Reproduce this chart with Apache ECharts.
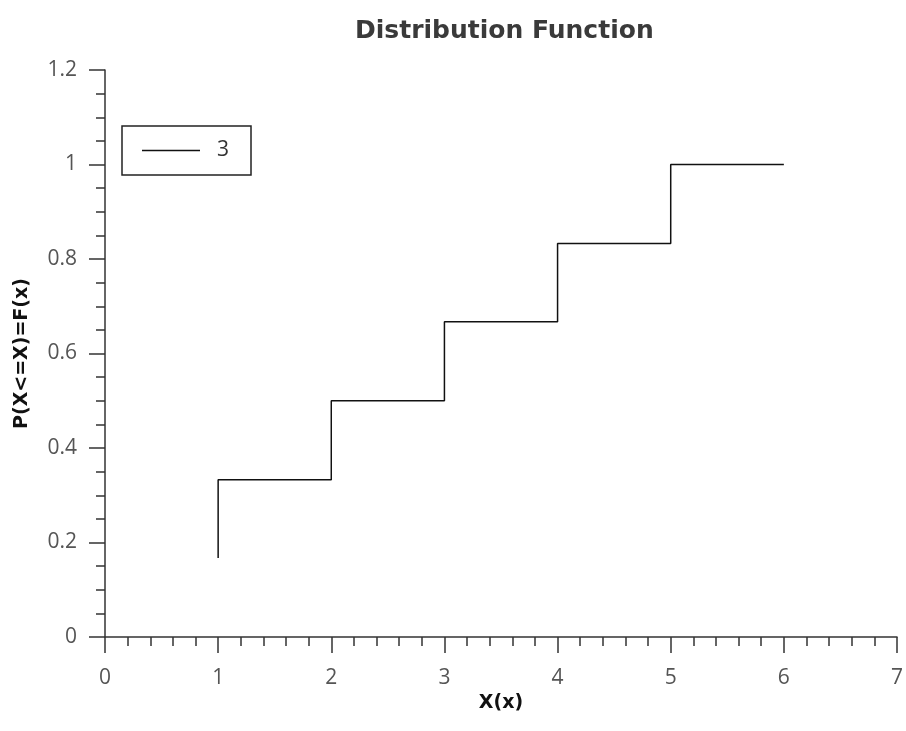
<!DOCTYPE html>
<html>
<head>
<meta charset="utf-8">
<script src="https://cdn.jsdelivr.net/npm/echarts@6/dist/echarts.min.js"></script>
<style>
  html, body { margin: 0; padding: 0; background: #fff; }
  #chart { width: 906px; height: 731px; }
</style>
</head>
<body>
<div id="chart"></div>
<script>
// step points of F(x); the line turns at the start of each step
const xValues = [1, 2, 3, 4, 5, 6];
const fValues = [0.167, 0.333, 0.5, 0.667, 0.833, 1.0];
const seriesName = '3';

const chart = echarts.init(document.getElementById('chart'));
const axisColor = '#333';
const font = 'Open Sans';
const boldFont = 'DejaVu Sans';

chart.setOption({
  backgroundColor: '#fff',
  animation: false,
  title: {
    text: 'Distribution Function',
    left: 350,
    top: 14,
    textStyle: { fontFamily: boldFont, fontSize: 25, fontWeight: 'bold', color: '#3a3a3a' }
  },
  legend: {
    left: 122,
    top: 126,
    orient: 'vertical',
    icon: 'rect',
    itemWidth: 58,
    itemHeight: 1.5,
    itemGap: 0,
    padding: [14, 22, 14, 20],
    borderColor: '#222',
    borderWidth: 1.5,
    borderRadius: 0,
    textStyle: { fontFamily: font, fontSize: 21, color: '#333', padding: [0, 0, 0, 12] },
    data: [seriesName]
  },
  grid: { left: 105, right: 7, top: 70, bottom: 94, containLabel: false },
  xAxis: {
    type: 'value',
    min: 0,
    max: 7,
    interval: 1,
    name: 'X(x)',
    nameLocation: 'middle',
    nameGap: 44,
    nameTextStyle: { fontFamily: boldFont, fontSize: 19, fontWeight: 'bold', color: '#111' },
    axisLine: { show: true, onZero: false, lineStyle: { color: axisColor, width: 1.5 } },
    axisTick: { show: true, inside: false, length: 16, lineStyle: { color: axisColor, width: 1.5 } },
    minorTick: { show: true, splitNumber: 5, length: 9, lineStyle: { color: axisColor, width: 1.5 } },
    axisLabel: { fontFamily: font, fontSize: 21, color: '#555', margin: 31 },
    splitLine: { show: false }
  },
  yAxis: {
    type: 'value',
    min: 0,
    max: 1.2,
    interval: 0.2,
    name: 'P(X<=X)=F(x)',
    nameLocation: 'middle',
    nameRotate: 90,
    nameGap: 73,
    nameTextStyle: { fontFamily: boldFont, fontSize: 19, fontWeight: 'bold', color: '#111' },
    axisLine: { show: true, onZero: false, lineStyle: { color: axisColor, width: 1.5 } },
    axisTick: { show: true, inside: false, length: 16, lineStyle: { color: axisColor, width: 1.5 } },
    minorTick: { show: true, splitNumber: 4, length: 9, lineStyle: { color: axisColor, width: 1.5 } },
    axisLabel: { fontFamily: font, fontSize: 21, color: '#555', margin: 28 },
    splitLine: { show: false }
  },
  series: [
    {
      name: seriesName,
      type: 'line',
      step: 'start',
      symbol: 'none',
      color: '#111',
      lineStyle: { color: '#111', width: 1.5 },
      data: xValues.map((x, i) => [x, fValues[i]])
    }
  ]
});
</script>
</body>
</html>
